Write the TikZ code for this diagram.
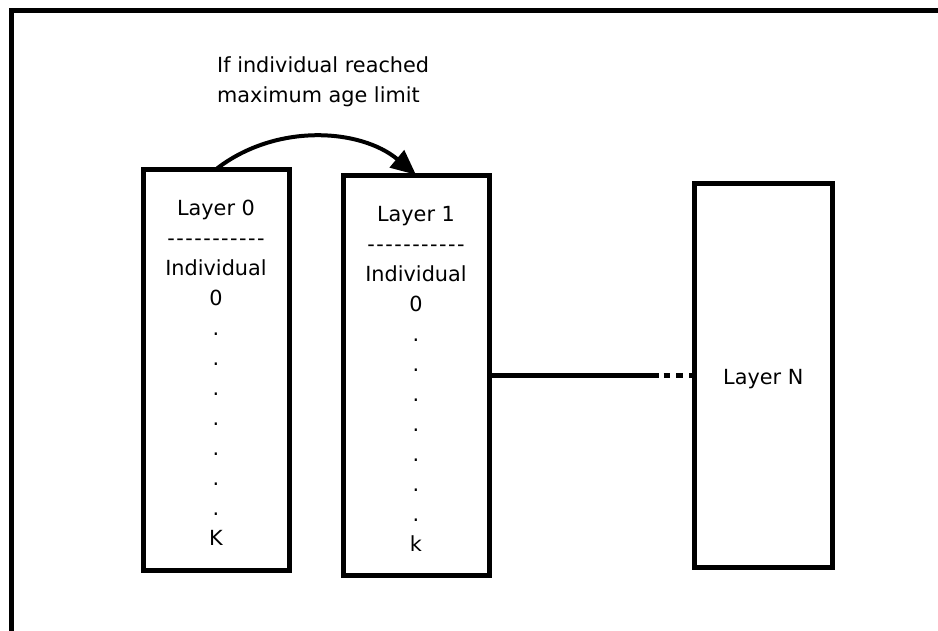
\documentclass[tikz,border=0pt]{standalone}
\usepackage{fontspec}
\setmainfont{DejaVu Sans}[Ligatures=TeXOff]
\usetikzlibrary{arrows.meta}

% separator line of hyphens under each layer title
\newcommand{\sepline}{{\addfontfeature{LetterSpace=7}-----------}}
% taller first line, so the column of text sits a little lower in its box
\newcommand{\topstrut}{\rule{0pt}{21.5pt}}

\begin{document}
\begin{tikzpicture}[x=1pt,y=-1pt,
  bodyfont/.style={font=\fontsize{20.8}{30}\selectfont},
  layerbox/.style={draw, line width=5pt, inner sep=0pt, align=center,
    bodyfont, text=black},
  link/.style={line width=5pt, line cap=butt}
]
\useasboundingbox (0,0) rectangle (938,631);

% outer frame, running past the right and bottom edges
\begin{scope}
  \clip (0,0) rectangle (938,631);
  \draw[line width=5pt] (11.5,660) -- (11.5,10.5) -- (960,10.5);
\end{scope}

% layers
\node[layerbox, minimum width=146pt, minimum height=400pt] (L0) at (216,370)
  {\topstrut Layer 0\\\sepline\\Individual\\0\\.\\.\\.\\.\\.\\.\\.\\K};
\node[layerbox, minimum width=146pt, minimum height=400pt] (L1) at (416,375.3)
  {\topstrut Layer 1\\\sepline\\Individual\\0\\.\\.\\.\\.\\.\\.\\.\\k};
\node[layerbox, minimum width=138pt, minimum height=383pt] (LN) at (763.3,375.5)
  {\topstrut Layer N};

% promotion rule
\node[bodyfont, text=black, align=left, anchor=west, inner sep=0pt] (cond)
  at (217,81.4) {If individual reached\\maximum age limit};

% promotion arrow from layer 0 to layer 1
\draw[line width=4pt, -{Triangle[length=25pt,width=22pt]}]
  ([xshift=1pt,yshift=-1pt]L0.north) .. controls +(60,-46) and +(-55,-46) .. ([xshift=0pt,yshift=-2pt]L1.north);

% link from layer 1 towards layer N, fading into dots
\draw[link, dash pattern=on 167pt off 5pt on 6.5pt off 6pt on 7pt off 6pt on 30pt]
  (L1.east) -- (L1.east -| LN.west);
\end{tikzpicture}
\end{document}
